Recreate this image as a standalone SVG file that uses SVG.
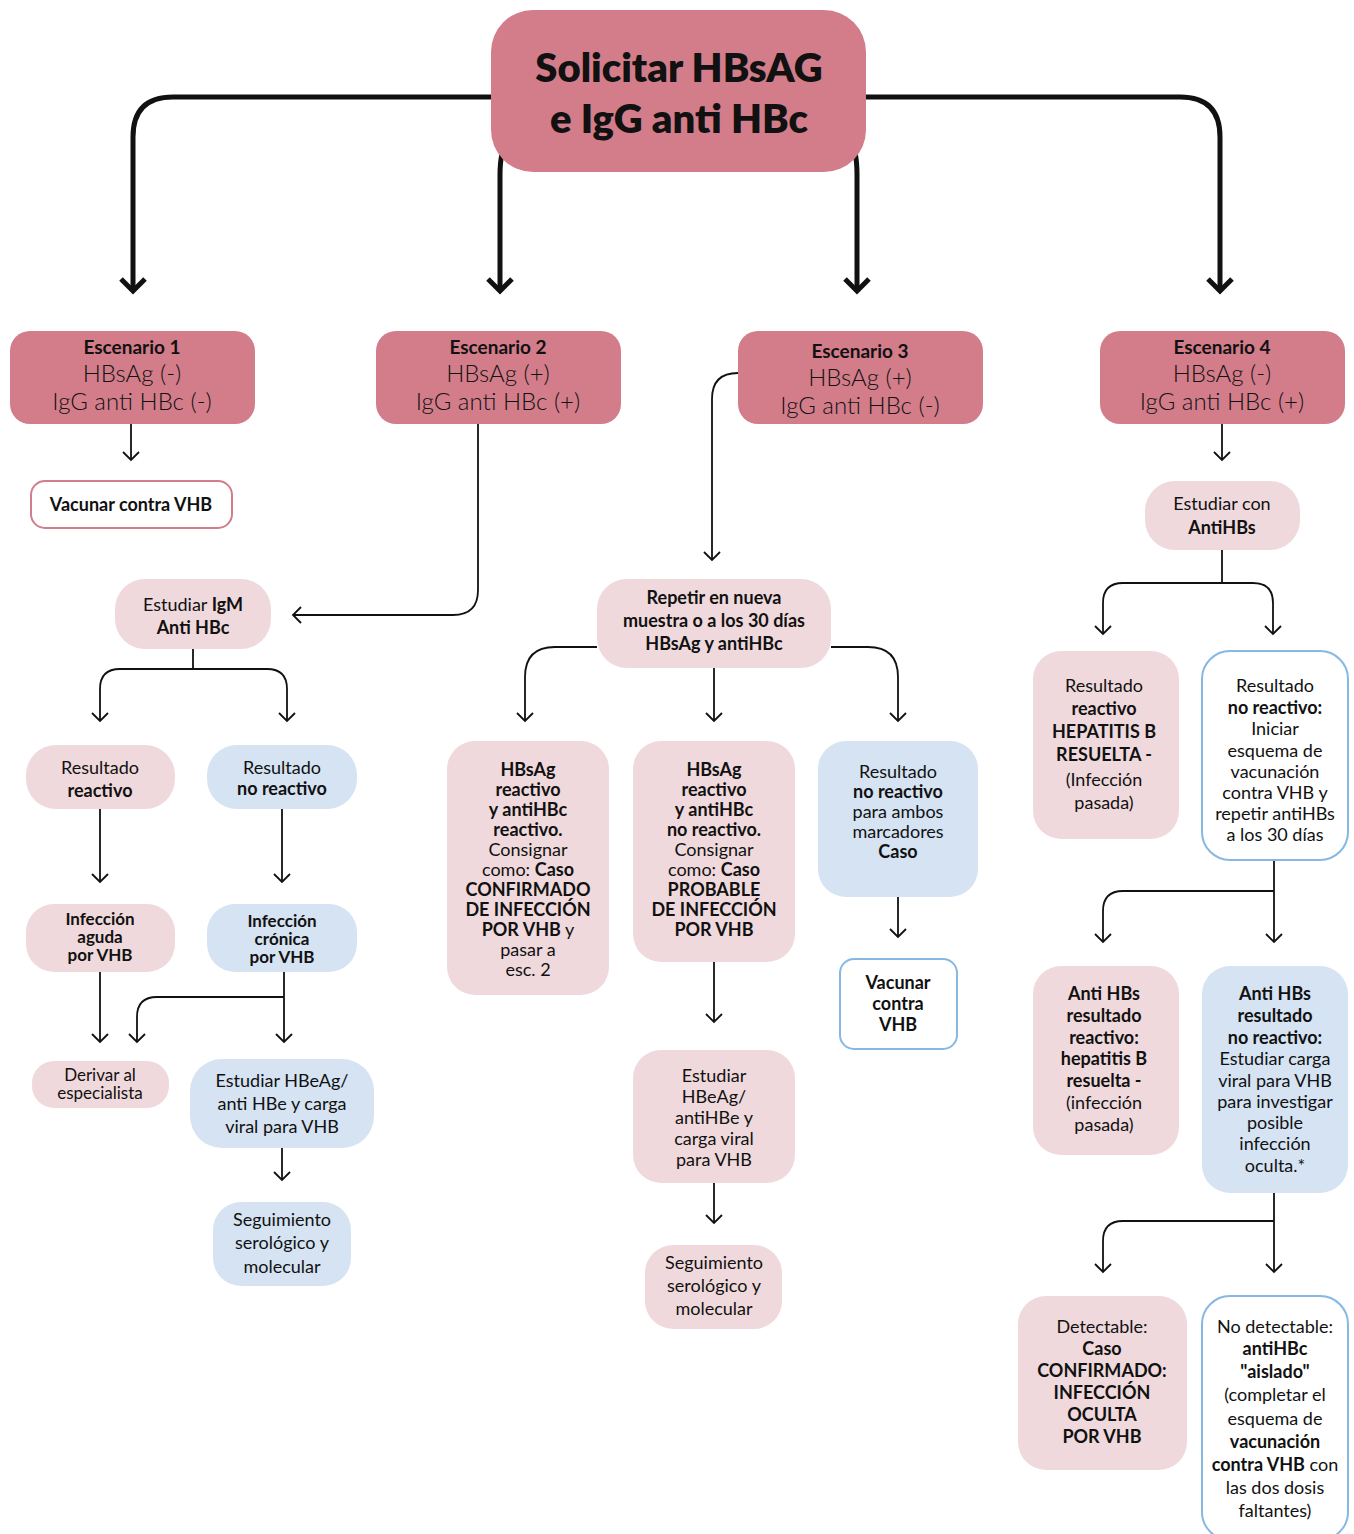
<svg xmlns="http://www.w3.org/2000/svg" width="1354" height="1534" viewBox="0 0 1354 1534">
  <style>
    .dk { fill: #d37d8b; }
    .lp { fill: #f0d9dc; }
    .lb { fill: #d5e3f3; }
    .wp { fill: #ffffff; stroke: #d37d8b; stroke-width: 2; }
    .wb { fill: #ffffff; stroke: #86b8e3; stroke-width: 2; }
    text { font-family: Lato, "Noto Sans", "Liberation Sans", sans-serif; fill: #111; text-anchor: middle; font-size: 18px; font-weight: 400; }
    .b { font-weight: 700; }
    .tight { font-size: 17px; font-weight: 700; }
    .title { font-size: 40px; font-weight: 800; }
    .esh { font-size: 19px; font-weight: 700; }
    .esl { font-size: 24px; font-weight: 300; }
    .thin { fill: none; stroke: #111; stroke-width: 1.8; marker-end: url(#ah); }
    .thick { fill: none; stroke: #111; stroke-width: 5; marker-end: url(#ahb); }
  </style>
  <defs>
    <marker id="ah" markerUnits="userSpaceOnUse" markerWidth="24" markerHeight="24" viewBox="-12 -12 24 24" refX="0" refY="0" orient="auto">
      <path d="M-8,-8 L0,0 L-8,8" fill="none" stroke="#111" stroke-width="1.8"/>
    </marker>
    <marker id="ahb" markerUnits="userSpaceOnUse" markerWidth="36" markerHeight="36" viewBox="-18 -18 36 36" refX="0" refY="0" orient="auto">
      <path d="M-12,-12 L0,0 L-12,12" fill="none" stroke="#111" stroke-width="5"/>
    </marker>
  </defs>

  <g id="connectors">
    <!-- main branches from the request -->
    <path class="thick" d="M491,97 H173 Q133,97 133,137 V291"/>
    <path class="thick" d="M866,97 H1180 Q1220,97 1220,137 V291"/>
    <path class="thick" d="M508,140 Q500,150 500,175 V291"/>
    <path class="thick" d="M850,140 Q857,150 857,175 V291"/>
    <!-- scenario 1 -->
    <path class="thin" d="M131,424 V460"/>
    <!-- scenario 2 -->
    <path class="thin" d="M478,424 V590 Q478,615 453,615 H293"/>
    <path class="thin" d="M193,649 V669 H120 Q100,669 100,689 V721"/>
    <path class="thin" d="M193,669 H267 Q287,669 287,689 V721"/>
    <path class="thin" d="M100,809 V882"/>
    <path class="thin" d="M282,809 V882"/>
    <path class="thin" d="M100,972 V1042"/>
    <path class="thin" d="M284,972 V1042"/>
    <path class="thin" d="M284,997 H157 Q137,997 137,1017 V1042"/>
    <path class="thin" d="M282,1148 V1180"/>
    <!-- scenario 3 -->
    <path class="thin" d="M738,373 Q712,373 712,399 V560"/>
    <path class="thin" d="M597,647 H555 Q525,647 525,677 V721"/>
    <path class="thin" d="M714,668 V721"/>
    <path class="thin" d="M831,647 H868 Q898,647 898,677 V721"/>
    <path class="thin" d="M898,897 V937"/>
    <path class="thin" d="M714,962 V1022"/>
    <path class="thin" d="M714,1183 V1223"/>
    <!-- scenario 4 -->
    <path class="thin" d="M1222,424 V460"/>
    <path class="thin" d="M1222,550 V583 H1123 Q1103,583 1103,603 V634"/>
    <path class="thin" d="M1222,583 H1253 Q1273,583 1273,603 V634"/>
    <path class="thin" d="M1274,860 V942"/>
    <path class="thin" d="M1274,891 H1123 Q1103,891 1103,911 V942"/>
    <path class="thin" d="M1274,1193 V1272"/>
    <path class="thin" d="M1274,1221 H1123 Q1103,1221 1103,1241 V1272"/>
  </g>

  <g id="solicitar">
    <rect class="dk" x="491" y="10" width="375" height="162" rx="42"/>
    <text class="title" x="679" y="82">Solicitar HBsAG</text>
    <text class="title" x="679" y="133">e IgG anti HBc</text>
  </g>

  <g id="escenario1">
    <rect class="dk" x="10" y="331" width="245" height="93" rx="20"/>
    <text class="esh" x="132" y="354">Escenario 1</text>
    <text class="esl" x="132" y="382">HBsAg (-)</text>
    <text class="esl" x="132" y="410">IgG anti HBc (-)</text>
  </g>
  <g id="escenario2">
    <rect class="dk" x="376" y="331" width="245" height="93" rx="20"/>
    <text class="esh" x="498" y="354">Escenario 2</text>
    <text class="esl" x="498" y="382">HBsAg (+)</text>
    <text class="esl" x="498" y="410">IgG anti HBc (+)</text>
  </g>
  <g id="escenario3">
    <rect class="dk" x="738" y="331" width="245" height="93" rx="20"/>
    <text class="esh" x="860" y="358">Escenario 3</text>
    <text class="esl" x="860" y="386">HBsAg (+)</text>
    <text class="esl" x="860" y="414">IgG anti HBc (-)</text>
  </g>
  <g id="escenario4">
    <rect class="dk" x="1100" y="331" width="245" height="93" rx="20"/>
    <text class="esh" x="1222" y="354">Escenario 4</text>
    <text class="esl" x="1222" y="382">HBsAg (-)</text>
    <text class="esl" x="1222" y="410">IgG anti HBc (+)</text>
  </g>

  <g id="vacunar1">
    <rect class="wp" x="31" y="481" width="201" height="47" rx="14"/>
    <text class="b" x="131" y="511">Vacunar contra VHB</text>
  </g>

  <g id="estudiar-igm">
    <rect class="lp" x="115" y="579" width="156" height="70" rx="30"/>
    <text x="193" y="611">Estudiar <tspan class="b">IgM</tspan></text>
    <text class="b" x="193" y="634">Anti HBc</text>
  </g>
  <g id="igm-reactivo">
    <rect class="lp" x="26" y="745" width="149" height="64" rx="30"/>
    <text x="100" y="774">Resultado</text>
    <text class="b" x="100" y="797">reactivo</text>
  </g>
  <g id="igm-no-reactivo">
    <rect class="lb" x="207" y="745" width="150" height="64" rx="30"/>
    <text x="282" y="774">Resultado</text>
    <text class="b" x="282" y="795">no reactivo</text>
  </g>
  <g id="infeccion-aguda">
    <rect class="lp" x="26" y="904" width="149" height="68" rx="28"/>
    <text class="tight" x="100" y="925">Infección</text>
    <text class="tight" x="100" y="943">aguda</text>
    <text class="tight" x="100" y="961">por VHB</text>
  </g>
  <g id="infeccion-cronica">
    <rect class="lb" x="207" y="904" width="150" height="68" rx="28"/>
    <text class="tight" x="282" y="927">Infección</text>
    <text class="tight" x="282" y="945">crónica</text>
    <text class="tight" x="282" y="963">por VHB</text>
  </g>
  <g id="derivar">
    <rect class="lp" x="32" y="1061" width="137" height="47" rx="22"/>
    <text x="100" y="1081" style="font-size:17px">Derivar al</text>
    <text x="100" y="1099" style="font-size:17px">especialista</text>
  </g>
  <g id="estudiar-hbeag-1">
    <rect class="lb" x="190" y="1059" width="184" height="89" rx="32"/>
    <text x="282" y="1087">Estudiar HBeAg/</text>
    <text x="282" y="1110">anti HBe y carga</text>
    <text x="282" y="1133">viral para VHB</text>
  </g>
  <g id="seguimiento-1">
    <rect class="lb" x="213" y="1202" width="138" height="84" rx="28"/>
    <text x="282" y="1226">Seguimiento</text>
    <text x="282" y="1249">serológico y</text>
    <text x="282" y="1273">molecular</text>
  </g>

  <g id="repetir">
    <rect class="lp" x="597" y="579" width="234" height="89" rx="30"/>
    <text class="b" x="714" y="604">Repetir en nueva</text>
    <text class="b" x="714" y="627">muestra o a los 30 días</text>
    <text class="b" x="714" y="650">HBsAg y antiHBc</text>
  </g>
  <g id="caso-confirmado">
    <rect class="lp" x="447" y="741" width="162" height="254" rx="28"/>
    <text class="b" x="528" y="776">HBsAg</text>
    <text class="b" x="528" y="796">reactivo</text>
    <text class="b" x="528" y="816">y antiHBc</text>
    <text class="b" x="528" y="836">reactivo.</text>
    <text x="528" y="856">Consignar</text>
    <text x="528" y="876">como: <tspan class="b">Caso</tspan></text>
    <text class="b" x="528" y="896">CONFIRMADO</text>
    <text class="b" x="528" y="916">DE INFECCIÓN</text>
    <text x="528" y="936"><tspan class="b">POR VHB</tspan> y</text>
    <text x="528" y="956">pasar a</text>
    <text x="528" y="976">esc. 2</text>
  </g>
  <g id="caso-probable">
    <rect class="lp" x="633" y="741" width="162" height="221" rx="28"/>
    <text class="b" x="714" y="776">HBsAg</text>
    <text class="b" x="714" y="796">reactivo</text>
    <text class="b" x="714" y="816">y antiHBc</text>
    <text class="b" x="714" y="836">no reactivo.</text>
    <text x="714" y="856">Consignar</text>
    <text x="714" y="876">como: <tspan class="b">Caso</tspan></text>
    <text class="b" x="714" y="896">PROBABLE</text>
    <text class="b" x="714" y="916">DE INFECCIÓN</text>
    <text class="b" x="714" y="936">POR VHB</text>
  </g>
  <g id="no-reactivo-ambos">
    <rect class="lb" x="818" y="741" width="160" height="156" rx="28"/>
    <text x="898" y="778">Resultado</text>
    <text class="b" x="898" y="798">no reactivo</text>
    <text x="898" y="818">para ambos</text>
    <text x="898" y="838">marcadores</text>
    <text class="b" x="898" y="858">Caso</text>
  </g>
  <g id="vacunar3">
    <rect class="wb" x="840" y="959" width="117" height="90" rx="14"/>
    <text class="b" x="898" y="989">Vacunar</text>
    <text class="b" x="898" y="1010">contra</text>
    <text class="b" x="898" y="1031">VHB</text>
  </g>
  <g id="estudiar-hbeag-2">
    <rect class="lp" x="633" y="1050" width="162" height="133" rx="28"/>
    <text x="714" y="1082">Estudiar</text>
    <text x="714" y="1103">HBeAg/</text>
    <text x="714" y="1124">antiHBe y</text>
    <text x="714" y="1145">carga viral</text>
    <text x="714" y="1166">para VHB</text>
  </g>
  <g id="seguimiento-2">
    <rect class="lp" x="645" y="1245" width="137" height="84" rx="28"/>
    <text x="714" y="1269">Seguimiento</text>
    <text x="714" y="1292">serológico y</text>
    <text x="714" y="1315">molecular</text>
  </g>

  <g id="estudiar-antihbs">
    <rect class="lp" x="1145" y="481" width="155" height="69" rx="30"/>
    <text x="1222" y="510">Estudiar con</text>
    <text class="b" x="1222" y="534">AntiHBs</text>
  </g>
  <g id="antihbs-reactivo">
    <rect class="lp" x="1033" y="651" width="146" height="188" rx="28"/>
    <text x="1104" y="692">Resultado</text>
    <text class="b" x="1104" y="715">reactivo</text>
    <text class="b" x="1104" y="738">HEPATITIS B</text>
    <text class="b" x="1104" y="761">RESUELTA -</text>
    <text x="1104" y="786">(Infección</text>
    <text x="1104" y="809">pasada)</text>
  </g>
  <g id="antihbs-no-reactivo">
    <rect class="wb" x="1202" y="651" width="146" height="209" rx="28"/>
    <text x="1275" y="692">Resultado</text>
    <text class="b" x="1275" y="714">no reactivo:</text>
    <text x="1275" y="735">Iniciar</text>
    <text x="1275" y="757">esquema de</text>
    <text x="1275" y="778">vacunación</text>
    <text x="1275" y="799">contra VHB y</text>
    <text x="1275" y="820">repetir antiHBs</text>
    <text x="1275" y="841">a los 30 días</text>
  </g>
  <g id="repeticion-reactivo">
    <rect class="lp" x="1033" y="966" width="146" height="189" rx="28"/>
    <text class="b" x="1104" y="1000">Anti HBs</text>
    <text class="b" x="1104" y="1022">resultado</text>
    <text class="b" x="1104" y="1044">reactivo:</text>
    <text class="b" x="1104" y="1065">hepatitis B</text>
    <text class="b" x="1104" y="1087">resuelta -</text>
    <text x="1104" y="1109">(infección</text>
    <text x="1104" y="1131">pasada)</text>
  </g>
  <g id="repeticion-no-reactivo">
    <rect class="lb" x="1202" y="966" width="146" height="227" rx="28"/>
    <text class="b" x="1275" y="1000">Anti HBs</text>
    <text class="b" x="1275" y="1022">resultado</text>
    <text class="b" x="1275" y="1044">no reactivo:</text>
    <text x="1275" y="1065">Estudiar carga</text>
    <text x="1275" y="1087">viral para VHB</text>
    <text x="1275" y="1108">para investigar</text>
    <text x="1275" y="1129">posible</text>
    <text x="1275" y="1150">infección</text>
    <text x="1275" y="1172">oculta.*</text>
  </g>
  <g id="detectable">
    <rect class="lp" x="1018" y="1296" width="169" height="174" rx="28"/>
    <text x="1102" y="1333">Detectable:</text>
    <text class="b" x="1102" y="1355">Caso</text>
    <text class="b" x="1102" y="1377">CONFIRMADO:</text>
    <text class="b" x="1102" y="1399">INFECCIÓN</text>
    <text class="b" x="1102" y="1421">OCULTA</text>
    <text class="b" x="1102" y="1443">POR VHB</text>
  </g>
  <g id="no-detectable">
    <rect class="wb" x="1202" y="1296" width="146" height="244" rx="28"/>
    <text x="1275" y="1333">No detectable:</text>
    <text class="b" x="1275" y="1355">antiHBc</text>
    <text class="b" x="1275" y="1378">"aislado"</text>
    <text x="1275" y="1401">(completar el</text>
    <text x="1275" y="1425">esquema de</text>
    <text class="b" x="1275" y="1448">vacunación</text>
    <text x="1275" y="1471"><tspan class="b">contra VHB</tspan> con</text>
    <text x="1275" y="1494">las dos dosis</text>
    <text x="1275" y="1517">faltantes)</text>
  </g>
</svg>
